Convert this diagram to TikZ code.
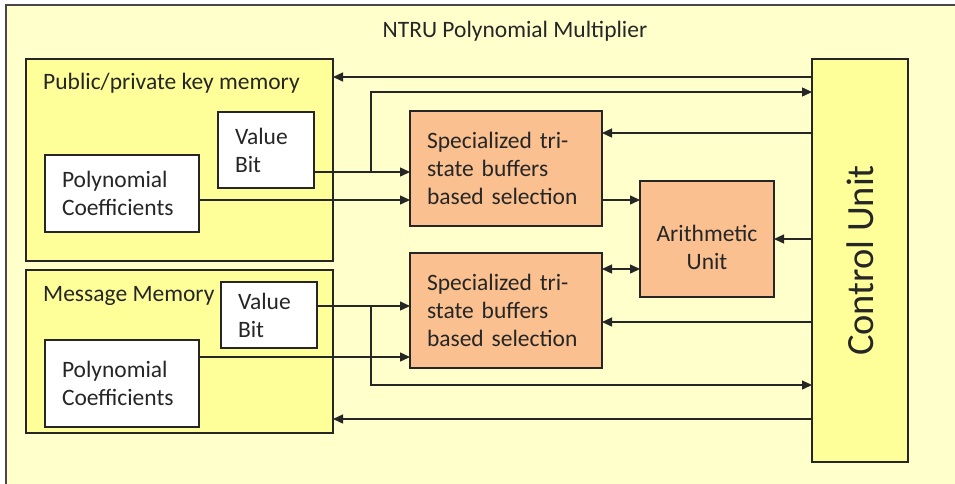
\documentclass[tikz,border=0pt]{standalone}
\usepackage{fontspec}
\setmainfont{Carlito}
\usetikzlibrary{arrows.meta}
\definecolor{bgY}{HTML}{FFFFCC}
\definecolor{memY}{HTML}{FFFF99}
\definecolor{orgF}{HTML}{FAC090}
\definecolor{lineC}{HTML}{262626}
\begin{document}
\begin{tikzpicture}[x=1pt,y=-1pt,
  font=\fontsize{23.5}{28}\selectfont,
  box/.style={draw=lineC, line width=1.4pt, outer sep=0pt, inner sep=0pt, anchor=north west, text=lineC},
  mem/.style={box, fill=memY},
  wbox/.style={box, fill=white, align=left, inner xsep=17pt},
  obox/.style={box, fill=orgF, align=left, inner xsep=17pt},
  lbl/.style={text=lineC, inner sep=0pt, anchor=base west},
  arr/.style={draw=lineC, line width=1.4pt, -{Triangle[length=10pt,width=9pt]}},
  arrb/.style={draw=lineC, line width=1.4pt, {Triangle[length=10pt,width=9pt]}-{Triangle[length=10pt,width=9pt]}}]
\useasboundingbox (0,0) rectangle (955,483);
\clip (0,0) rectangle (955,483);
\fill[white] (0,0) rectangle (955,483);
\draw[draw=lineC!85, line width=2pt, fill=bgY] (6,5) rectangle (990,520);
\node[text=lineC, inner sep=0pt, anchor=base] (title) at (515,37) {NTRU Polynomial Multiplier};
% memories
\node[mem, minimum width=307pt, minimum height=202pt] (keymem) at (26,59) {};
\node[lbl] (keylbl) at (43,89) {Public/private key memory};
\node[wbox, minimum width=96pt, minimum height=76pt, text width=62pt] (vb1) at (218,112) {Value\\Bit};
\node[wbox, minimum width=154pt, minimum height=77pt, text width=120pt] (pc1) at (45,155) {Polynomial\\Coefficients};
\node[mem, minimum width=307pt, minimum height=163pt] (msgmem) at (26,270) {};
\node[lbl] (msglbl) at (43,301) {Message Memory};
\node[wbox, minimum width=96pt, minimum height=66pt, text width=62pt] (vb2) at (221,282) {Value\\Bit};
\node[wbox, minimum width=154pt, minimum height=87pt, text width=120pt] (pc2) at (45,340) {Polynomial\\Coefficients};
% selection
\node[obox, minimum width=192pt, minimum height=115pt, text width=158pt] (spec1) at (410,111) {Specialized tri-\\state buffers\\based selection};
\node[obox, minimum width=192pt, minimum height=115pt, text width=158pt] (spec2) at (410,253) {Specialized tri-\\state buffers\\based selection};
\node[box, fill=orgF, minimum width=134pt, minimum height=116pt] (arith) at (640,181) {};
\node[text=lineC, align=center, inner sep=0pt] (arithlbl) at ([yshift=-8pt]arith.center) {Arithmetic\\Unit};
\node[box, fill=memY, minimum width=96pt, minimum height=403pt] (cu) at (812,59) {};
\node[text=lineC, rotate=90, inner sep=0pt, font=\fontsize{38.5}{40}\selectfont] (culbl) at (cu.center) {Control Unit};
% helper coordinates
\coordinate (y77) at (0,77);
\coordinate (y92) at (0,92);
\coordinate (y133) at (0,133);
\coordinate (y172) at (0,172);
\coordinate (y200) at (0,200);
\coordinate (y239) at (0,239);
\coordinate (y269) at (0,269);
\coordinate (y306) at (0,306);
\coordinate (y322) at (0,322);
\coordinate (y357) at (0,357);
\coordinate (y385) at (0,385);
\coordinate (y419) at (0,419);
\coordinate (br1) at (371,172);
\coordinate (br2) at (371,306);
% connectors
\draw[arr] (cu.west |- y77) -- (keymem.east |- y77);
\draw[arr] (br1) |- (cu.west |- y92);
\draw[arr] (cu.west |- y133) -- (spec1.east |- y133);
\draw[arr] (vb1.east |- y172) -- (spec1.west |- y172);
\draw[arr] (pc1.east |- y200) -- (spec1.west |- y200);
\draw[arr] (spec1.east |- y200) -- (arith.west |- y200);
\draw[arr] (cu.west |- y239) -- (arith.east |- y239);
\draw[arrb] (spec2.east |- y269) -- (arith.west |- y269);
\draw[arr] (cu.west |- y322) -- (spec2.east |- y322);
\draw[arr] (vb2.east |- y306) -- (spec2.west |- y306);
\draw[arr] (pc2.east |- y357) -- (spec2.west |- y357);
\draw[arr] (br2) |- (cu.west |- y385);
\draw[arr] (cu.west |- y419) -- (msgmem.east |- y419);
\end{tikzpicture}
\end{document}
